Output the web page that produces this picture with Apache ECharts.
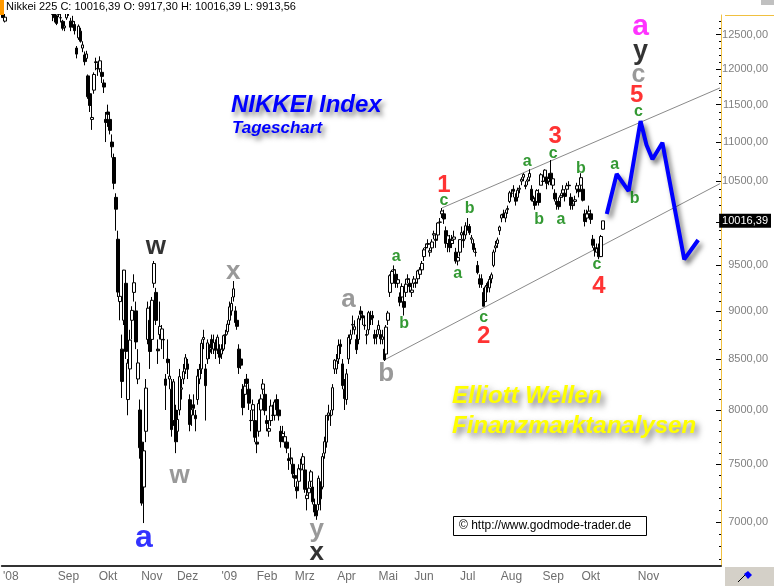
<!DOCTYPE html>
<html><head><meta charset="utf-8">
<script src="https://cdn.jsdelivr.net/npm/echarts@6/dist/echarts.min.js"></script>
<style>html,body{margin:0;padding:0;background:#fff}#c{width:774px;height:586px}</style>
</head><body><div id="c"></div>
<script>
// trading days per month (Tokyo Stock Exchange)
const tradingMonths = [
 ['2008-07',[15,16,17,18,22,23,24,25,28,29,30,31]],
 ['2008-08',[1,4,5,6,7,8,11,12,13,14,15,18,19,20,21,22,25,26,27,28,29]],
 ['2008-09',[1,2,3,4,5,8,9,10,11,12,16,17,18,19,22,24,25,26,29,30]],
 ['2008-10',[1,2,3,6,7,8,9,10,14,15,16,17,20,21,22,23,24,27,28,29,30,31]],
 ['2008-11',[4,5,6,7,10,11,12,13,14,17,18,19,20,21,25,26,27,28]],
 ['2008-12',[1,2,3,4,5,8,9,10,11,12,15,16,17,18,19,22,24,25,26,29,30]],
 ['2009-01',[5,6,7,8,9,13,14,15,16,19,20,21,22,23,26,27,28,29,30]],
 ['2009-02',[2,3,4,5,6,9,10,12,13,16,17,18,19,20,23,24,25,26,27]],
 ['2009-03',[2,3,4,5,6,9,10,11,12,13,16,17,18,19,23,24,25,26,27,30,31]],
 ['2009-04',[1,2,3,6,7,8,9,10,13,14,15,16,17,20,21,22,23,24,27,28,30]],
 ['2009-05',[1,7,8,11,12,13,14,15,18,19,20,21,22,25,26,27,28,29]],
 ['2009-06',[1,2,3,4,5,8,9,10,11,12,15,16,17,18,19,22,23,24,25,26,29,30]],
 ['2009-07',[1,2,3,6,7,8,9,10,13,14,15,16,17,21,22,23,24,27,28,29,30,31]],
 ['2009-08',[3,4,5,6,7,10,11,12,13,14,17,18,19,20,21,24,25,26,27,28,31]],
 ['2009-09',[1,2,3,4,7,8,9,10,11,14,15,16,17,18,24,25,28,29,30]],
 ['2009-10',[1,2,5,6,7,8,9]]
];
// projection area (calendar days)
const futureMonths = [
 ['2009-10',[10,11,12,13,14,15,16,17,18,19,20,21,22,23,24,25,26,27,28,29,30,31]],
 ['2009-11',[1,2,3,4,5,6,7,8,9,10,11,12,13,14,15,16,17,18,19,20,21,22,23,24,25,26,27,28,29,30]],
 ['2009-12',[1,2,3,4,5,6,7]]
];
const monthLabels = {
 '2008-07-22':"'08",'2008-09-01':'Sep','2008-10-01':'Okt','2008-11-04':'Nov','2008-12-01':'Dez',
 '2009-01-05':"'09",'2009-02-02':'Feb','2009-03-02':'Mrz','2009-04-01':'Apr','2009-05-01':'Mai',
 '2009-06-01':'Jun','2009-07-01':'Jul','2009-08-03':'Aug','2009-09-01':'Sep','2009-10-01':'Okt','2009-11-01':'Nov'
};
// [open, close, low, high]
const ohlc = [
[12880,12754,12820,12905],[12700,12760,12680,12810],[12890,12887,12830,12980],[13030,13180,13000,13200],
[13120,13247,13100,13300],[13320,13282,13230,13380],[13550,13603,13500,13650],[13400,13334,13280,13420],
[13330,13353,13260,13400],[13200,13159,13100,13260],[13250,13159,13120,13300],[13300,13376,13250,13400],
[13250,13094,13050,13300],[13000,13019,12950,13100],[12950,12933,12850,13000],[13150,13254,13120,13300],
[13300,13275,13200,13350],[13200,13168,13050,13250],[13300,13430,13280,13470],[13350,13303,13250,13380],
[13150,13023,12960,13180],[12980,12956,12850,13050],[13000,13019,12950,13100],[13080,13165,13050,13200],
[13000,12851,12800,13020],[12800,12800,12700,12880],[12850,12752,12680,12900],[12780,12666,12640,12800],
[12800,12858,12760,12900],[12750,12752,12680,12820],[12700,12592,12560,12720],[12600,12627,12550,12700],
[12750,13072,12720,13100],
[13000,12834,12780,13050],[12700,12609,12550,12750],[12700,12689,12600,12780],[12650,12557,12500,12700],
[12300,12212,12150,12330],[12450,12624,12420,12650],[12550,12400,12380,12600],[12300,12346,12240,12400],
[12200,12102,12050,12250],[12150,12214,12100,12260],[11900,11609,11580,11920],[11650,11489,11400,11700],
[11300,11326,11160,11500],[11700,11920,11650,11950],[12100,12090,11980,12160],[12000,12006,11900,12080],
[12000,12115,11950,12180],[11950,11893,11800,12000],[11800,11743,11660,11850],[11300,11259,11000,11400],
[11400,11368,11200,11500],[11300,11154,11100,11380],[11000,10938,10800,11100],[10800,10473,10400,10850],
[10300,10156,9900,10350],[9800,9203,9150,9900],[9100,9157,8900,9400],[8600,8276,8115,8750],
[8900,9447,8850,9450],[9300,8577,8500,9350],[8100,8458,7950,8500],[8400,8693,8200,8800],
[8900,9005,8700,9050],[9200,9306,9100,9400],[9000,8674,8600,9100],[8300,8460,8250,8600],
[8000,7649,7550,8100],[7700,7162,7140,7750],[7300,7621,6994,7700],[7800,8211,7700,8300],
[8700,9029,8650,9100],[8900,8576,8400,9050],
[8700,9114,8650,9150],[9300,9521,9250,9550],[9200,8899,8850,9250],[8600,8583,8450,8700],
[8750,8836,8700,9100],[8700,8809,8600,8850],[8700,8694,8500,8800],[8300,8238,8000,8350],
[8500,8462,8350,8700],[8300,8328,8200,8500],[8200,7816,7750,8300],[7900,8273,7850,8300],
[8000,7703,7600,8050],[7800,7910,7700,8000],[8000,8323,7950,8400],[8200,8213,8100,8300],
[8300,8373,8250,8450],[8400,8512,8350,8550],
[8450,8397,8300,8500],[8100,7863,7800,8150],[7950,8004,7850,8100],[8050,8016,7950,8150],
[7950,7917,7800,8000],[8100,8329,8050,8400],[8300,8395,8250,8450],[8400,8660,8350,8700],
[8700,8720,8600,8800],[8400,8235,7900,8450],[8500,8664,8450,8700],[8600,8568,8500,8650],
[8700,8612,8550,8750],[8600,8667,8550,8750],[8650,8588,8500,8700],[8600,8723,8550,8750],
[8600,8517,8450,8650],[8550,8599,8500,8650],[8600,8739,8580,8750],[8750,8742,8650,8800],
[8780,8859,8750,8900],
[8900,9043,8850,9100],[9000,9080,8950,9150],[9150,9239,9100,9325],[9000,8876,8850,9050],
[8900,8836,8800,8950],[8600,8413,8350,8650],[8500,8438,8400,8550],[8200,8023,7950,8250],
[8150,8230,8100,8300],[8300,8256,8200,8350],[8200,8065,8000,8250],[7900,7901,7800,8000],
[8000,8051,7900,8100],[7900,7745,7700,8000],[7700,7682,7600,7800],[7800,8061,7750,8100],
[8000,8106,7950,8150],[8200,8251,8150,8300],[8150,7994,7950,8200],
[7900,7873,7800,7950],[7800,7825,7750,7900],[7900,8038,7850,8100],[7950,7949,7900,8050],
[7950,8076,7900,8100],[8100,8002,7950,8150],[8000,7945,7900,8050],[7800,7705,7650,7850],
[7750,7779,7700,7850],[7700,7750,7650,7800],[7700,7645,7600,7750],[7550,7534,7450,7600],
[7550,7557,7500,7650],[7500,7416,7380,7550],[7400,7376,7300,7450],[7300,7268,7200,7350],
[7350,7461,7300,7500],[7450,7457,7400,7550],[7500,7568,7450,7600],
[7450,7280,7250,7500],[7200,7229,7100,7300],[7250,7290,7200,7350],[7350,7433,7300,7450],
[7300,7173,7150,7350],[7150,7086,7050,7200],[7100,7054,7021,7150],[7150,7376,7100,7400],
[7300,7198,7100,7350],[7300,7569,7280,7600],[7600,7704,7550,7750],[7700,7949,7650,7950],
[7950,7972,7900,8050],[7950,7945,7850,8000],[8000,8215,7950,8250],[8400,8488,8350,8500],
[8400,8480,8350,8550],[8500,8636,8450,8700],[8650,8626,8550,8700],[8450,8236,8200,8500],
[8200,8109,8000,8300],
[8100,8351,8050,8400],[8500,8719,8450,8750],[8700,8749,8650,8800],[8850,8857,8750,8950],
[8800,8832,8750,8900],[8700,8595,8550,8750],[8700,8916,8650,8950],[9000,8964,8900,9050],
[8950,8924,8850,9000],[8850,8842,8800,8950],[8750,8743,8650,8800],[8800,8981,8750,9000],
[8950,8907,8850,9000],[8950,8924,8850,9000],[8750,8711,8650,8800],[8750,8727,8650,8800],
[8800,8847,8750,8900],[8750,8707,8650,8800],[8700,8726,8650,8800],[8600,8493,8480,8650],
[8550,8828,8550,8850],
[8900,8977,8850,9000],[9200,9385,9150,9400],[9300,9432,9250,9450],[9450,9451,9400,9500],
[9400,9298,9250,9450],[9300,9340,9250,9400],[9150,9093,9050,9200],[9150,9265,9100,9300],
[9100,9038,8950,9150],[9200,9290,9150,9350],[9350,9344,9300,9400],[9300,9264,9200,9350],
[9200,9225,9150,9280],[9300,9347,9250,9380],[9300,9310,9250,9350],[9350,9438,9300,9450],
[9400,9451,9350,9480],[9450,9522,9400,9550],
[9600,9677,9550,9700],[9700,9704,9650,9750],[9750,9741,9700,9800],[9650,9668,9600,9700],
[9700,9768,9650,9800],[9850,9865,9800,9900],[9800,9787,9700,9850],[9850,9991,9800,10000],
[10000,10002,9950,10050],[10100,10135,10050,10170],[10100,10039,9980,10150],[9900,9752,9700,9950],
[9750,9840,9650,9900],[9800,9703,9650,9850],[9750,9786,9700,9850],[9800,9826,9750,9900],
[9650,9549,9520,9700],[9550,9590,9500,9650],[9650,9796,9600,9800],[9850,9877,9800,9950],
[9800,9783,9700,9900],[9850,9958,9800,10000],
[9950,9939,9900,10050],[9950,9876,9850,9980],[9800,9816,9750,9850],[9750,9680,9650,9800],
[9650,9647,9600,9700],[9500,9420,9400,9550],[9350,9291,9250,9400],[9350,9287,9250,9400],
[9200,9050,9050,9250],[9100,9261,9100,9280],[9300,9269,9200,9320],[9250,9344,9200,9380],
[9350,9395,9300,9420],[9500,9652,9480,9680],[9700,9723,9650,9780],[9750,9792,9700,9820],
[9900,9944,9850,9960],[10050,10088,10000,10100],[10100,10087,10050,10150],[10050,10113,10000,10150],
[10150,10165,10100,10200],[10250,10356,10230,10380],
[10350,10352,10300,10400],[10400,10375,10300,10450],[10300,10252,10200,10350],[10300,10388,10250,10420],
[10400,10412,10350,10450],[10500,10524,10450,10550],[10550,10585,10500,10600],[10450,10435,10400,10500],
[10500,10517,10450,10550],[10550,10597,10500,10650],[10400,10268,10250,10450],[10250,10284,10200,10320],
[10250,10204,10150,10300],[10250,10383,10250,10400],[10350,10238,10200,10400],[10450,10581,10450,10600],
[10500,10497,10450,10550],[10550,10639,10500,10650],[10550,10473,10400,10600],[10500,10534,10450,10600],
[10600,10492,10450,10767],
[10450,10530,10400,10550],[10350,10280,10250,10400],[10250,10214,10150,10300],[10250,10187,10150,10300],
[10300,10320,10250,10350],[10350,10393,10300,10450],[10350,10312,10250,10400],[10400,10444,10350,10480],
[10450,10444,10400,10500],[10300,10202,10150,10350],[10200,10217,10150,10280],[10250,10270,10200,10320],
[10400,10443,10350,10480],[10400,10370,10300,10450],[10450,10544,10400,10600],[10400,10265,10250,10450],
[10100,10009,9950,10150],[10050,10100,10000,10150],[10100,10133,10050,10200],
[10100,10034,9980,10150],[9800,9731,9700,9850],[9700,9674,9600,9750],[9650,9691,9650,9750],
[9700,9599,9570,9750],[9600,9832,9600,9850],[9917.30,10016.39,9913.56,10016.39]
];
// Elliott channel lines [dateIndex, value]
const upperChannel = [[221,10171],[361,11731]];
const lowerChannel = [[192,8490],[361,10470]];
// projected path
const projection = [[304,10099],[309,10590],[315,10378],[321,11279],[324,10962],[327,10777],[332,10991],[343,9569],[350,9791]];
// wave labels [text, dateIndex, value, kind]
const waveLabels = [
 ['w',77,9713,'black'],['x',116,9429,'gray'],['a',174,9117,'gray'],['w',89,7396,'gray'],
 ['a',71,6868,'blue'],['y',158,6936,'gray'],['x',158,6747,'black'],
 ['a',198,9598,'green'],['b',202,8868,'green'],['b',193,8356,'gray'],
 ['1',222,10452,'red'],['c',222,10256,'green'],['b',235,10167,'green'],['a',229,9411,'green'],
 ['c',242,8931,'green'],['2',242,8728,'red'],['3',278,11070,'red'],['c',277,10854,'green'],
 ['a',264,10746,'green'],['b',270,10026,'green'],['a',281,10026,'green'],['b',291,10662,'green'],
 ['c',299,9504,'green'],['4',300,9262,'red'],['a',308,10704,'green'],['b',318,10289,'green'],
 ['c',320,11404,'green'],['5',319,11633,'red'],['c',320,11912,'grayC'],['y',321,12247,'blackY'],['a',321,12617,'magenta']
];
const yLabelValues = [7000,7500,8000,8500,9000,9500,10500,11000,11500,12000,12500];
const yTickValues = [7000,7500,8000,8500,9000,9500,10000,10500,11000,11500,12000,12500];

const labelStyles = {
 black:{color:'#000',fontSize:26}, gray:{color:'#808080',fontSize:26}, green:{color:'#008000',fontSize:16},
 red:{color:'#ff0000',fontSize:24}, blue:{color:'#0000ff',fontSize:32}, magenta:{color:'#ff00ff',fontSize:30},
 grayC:{color:'#808080',fontSize:25}, blackY:{color:'#000',fontSize:27}
};

const cats = [];
tradingMonths.concat(futureMonths).forEach(([m, days]) => days.forEach(d => cats.push(m + '-' + String(d).padStart(2,'0'))));
const minorTicks = [];
for (let v = 6700; v <= 12700; v += 100) minorTicks.push(v);
const fmt = v => v.toFixed(2).replace('.', ',');
const last = ohlc[ohlc.length - 1];
const FONT = 'Liberation Sans, Arial, sans-serif';
const showCat = (i, v) => Object.prototype.hasOwnProperty.call(monthLabels, v);
const logAxisBase = {type:'log', logBase:10, min:6646, max:12793, position:'right', splitLine:{show:false}};

const chart = echarts.init(document.getElementById('c'), null, {renderer:'canvas'});
chart.setOption({
 animation:false,
 backgroundColor:'#fff',
 title:{text:'Nikkei 225 C: ' + fmt(last[1]) + ' O: ' + fmt(last[0]) + ' H: ' + fmt(last[3]) + ' L: ' + fmt(last[2]),
   left:6, top:1, padding:0, z:20, textStyle:{fontSize:11, fontWeight:'normal', color:'#000', fontFamily:FONT}},
 grid:{left:0, right:49, top:15, bottom:20, containLabel:false},
 xAxis:{type:'category', data:cats, boundaryGap:true,
   axisLine:{lineStyle:{color:'#333', width:2}},
   axisTick:{inside:true, length:3, interval:showCat, alignWithLabel:true, lineStyle:{color:'#999'}},
   axisLabel:{interval:showCat, formatter:v => monthLabels[v] || '', color:'#6e6e6e', fontSize:12, margin:5, fontFamily:FONT},
   splitLine:{show:false}},
 yAxis:[
  Object.assign({}, logAxisBase, {
   axisLine:{show:true, lineStyle:{color:'#f0c040', width:1}},
   axisTick:{show:true, inside:true, length:5, customValues:yTickValues, lineStyle:{color:'#000'}},
   axisLabel:{customValues:yLabelValues, formatter:v => fmt(v), color:'#808080', fontSize:11, align:'right', margin:47, fontFamily:FONT}}),
  Object.assign({}, logAxisBase, {
   axisLine:{show:false},
   axisTick:{show:true, inside:true, length:2, customValues:minorTicks, lineStyle:{color:'#000'}},
   axisLabel:{show:false}}),
  Object.assign({}, logAxisBase, {
   axisLine:{show:false}, axisTick:{show:false},
   axisLabel:{customValues:[last[1]], formatter:v => fmt(v), color:'#fff', backgroundColor:'#000', padding:[2,3,1,3],
     fontSize:11, align:'right', margin:50, fontFamily:FONT}})
 ],
 series:[
  {type:'candlestick', data:ohlc, yAxisIndex:0, barWidth:3, z:3, clip:true,
   itemStyle:{color:'#fff', color0:'#000', borderColor:'#000', borderColor0:'#000', borderColorDoji:'#000', borderWidth:1}},
  {type:'line', data:upperChannel, symbol:'none', silent:true, clip:true, lineStyle:{color:'#8a8a8a', width:1}, z:2},
  {type:'line', data:lowerChannel, symbol:'none', silent:true, clip:true, lineStyle:{color:'#8a8a8a', width:1}, z:2},
  {type:'line', data:projection, symbol:'none', silent:true, z:4,
   lineStyle:{color:'#0000ff', width:4, shadowColor:'rgba(0,0,0,0.55)', shadowBlur:5, shadowOffsetX:3, shadowOffsetY:4}},
  {type:'scatter', symbolSize:1, silent:true, z:6, clip:false, itemStyle:{color:'rgba(0,0,0,0)'},
   data:waveLabels.map(([t, i, v, k]) => ({value:[i, v],
     label:{show:true, position:'inside', formatter:t, fontWeight:'bold', fontFamily:FONT,
       color:labelStyles[k].color, fontSize:labelStyles[k].fontSize}}))}
 ],
 graphic:[
  {type:'rect', z:10, shape:{x:0, y:0, width:725, height:14}, style:{fill:'#fff'}},
  {type:'rect', z:100, shape:{x:0, y:0, width:4, height:15}, style:{fill:'#ff9900'}},
  {type:'rect', z:100, shape:{x:761, y:0, width:13, height:5}, style:{fill:'#c0c0c0'}},
  {type:'line', z:100, shape:{x1:725, y1:15.5, x2:774, y2:15.5}, style:{stroke:'#f0c040', lineWidth:1}},
  {type:'rect', z:100, shape:{x:725, y:567, width:49, height:19}, style:{fill:'#d4d0c8'}},
  {type:'line', z:100, shape:{x1:738, y1:582, x2:746, y2:574}, style:{stroke:'#000', lineWidth:1}},
  {type:'polygon', z:100, shape:{points:[[744,574],[748,571],[752,575],[748,579]]}, style:{fill:'#0000ff'}},
  {type:'text', x:231, y:93, style:{text:'NIKKEI Index', font:'italic bold 24px ' + FONT, fill:'#0000ff',
    textShadowColor:'rgba(0,0,0,0.5)', textShadowBlur:5, textShadowOffsetX:3, textShadowOffsetY:4}},
  {type:'text', x:232, y:120, style:{text:'Tageschart', font:'italic bold 17px ' + FONT, fill:'#0000ff',
    textShadowColor:'rgba(0,0,0,0.5)', textShadowBlur:5, textShadowOffsetX:3, textShadowOffsetY:4}},
  {type:'text', x:452, y:384, style:{text:'Elliott Wellen', font:'italic bold 24px ' + FONT, fill:'#ffff00',
    textShadowColor:'rgba(0,0,0,0.55)', textShadowBlur:6, textShadowOffsetX:3, textShadowOffsetY:4}},
  {type:'text', x:452, y:414, style:{text:'Finanzmarktanalysen', font:'italic bold 24px ' + FONT, fill:'#ffff00',
    textShadowColor:'rgba(0,0,0,0.55)', textShadowBlur:6, textShadowOffsetX:3, textShadowOffsetY:4}},
  {type:'rect', shape:{x:453.5, y:516.5, width:193, height:19}, style:{fill:'#fff', stroke:'#000', lineWidth:1}},
  {type:'text', x:459, y:526, style:{text:'\u00a9 http://www.godmode-trader.de', font:'12px ' + FONT, fill:'#000', verticalAlign:'middle'}}
 ]
});
</script></body></html>
